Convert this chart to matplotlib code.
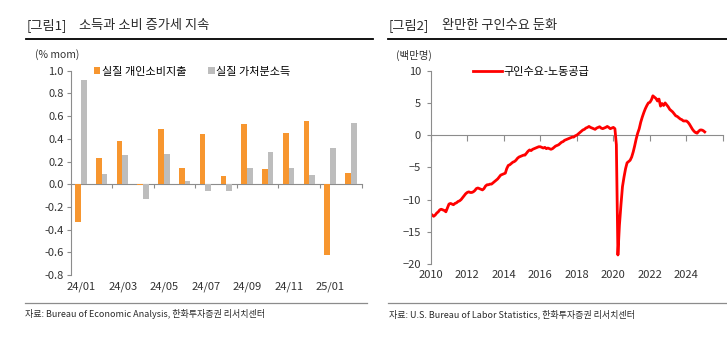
import numpy as np
import pandas as pd
import matplotlib
matplotlib.use("Agg")
import matplotlib.pyplot as plt
import matplotlib.dates as mdates
from matplotlib.lines import Line2D

plt.rcParams['font.family'] = ['Noto Sans CJK KR', 'DejaVu Sans']

# ---- data: [그림1]
months = ["24/01", "24/02", "24/03", "24/04", "24/05", "24/06", "24/07",
          "24/08", "24/09", "24/10", "24/11", "24/12", "25/01", "25/02"]
consumption = [-0.33, 0.23, 0.38, -0.01, 0.49, 0.14, 0.44,
               0.07, 0.53, 0.13, 0.45, 0.56, -0.62, 0.10]
income = [0.92, 0.09, 0.26, -0.13, 0.27, 0.03, -0.06,
          -0.06, 0.14, 0.28, 0.14, 0.08, 0.32, 0.54]
pct_ticks = [-0.8, -0.6, -0.4, -0.2, 0.0, 0.2, 0.4, 0.6, 0.8, 1.0]

# ---- data: [그림2] 구인수요-노동공급 (백만명), monthly from 2010-01
gap = [
    -12.2, -12.4, -12.6, -12.4, -12.1, -11.9, -11.6, -11.5, -11.6, -11.7, -11.9, -11.3,
    -10.7, -10.6, -10.7, -10.8, -10.6, -10.5, -10.3, -10.2, -10.0, -9.7, -9.4, -9.1,
    -8.9, -8.8, -8.9, -8.9, -8.8, -8.6, -8.3, -8.2, -8.3, -8.4, -8.5, -8.3,
    -7.9, -7.7, -7.7, -7.6, -7.6, -7.4, -7.2, -7.0, -6.8, -6.5, -6.2, -6.1,
    -6.0, -5.9, -5.2, -4.7, -4.6, -4.4, -4.2, -4.1, -3.9, -3.6, -3.4, -3.3,
    -3.2, -3.1, -3.1, -2.8, -2.5, -2.3, -2.4, -2.2, -2.1, -2.0, -1.9, -1.8,
    -1.8, -1.9, -2.0, -1.9, -2.1, -2.0, -2.1, -2.2, -2.1, -1.9, -1.7, -1.6,
    -1.5, -1.3, -1.1, -1.0, -0.8, -0.7, -0.6, -0.5, -0.4, -0.3, -0.3, -0.1,
    0.0, 0.2, 0.4, 0.6, 0.8, 0.9, 1.1, 1.2, 1.35, 1.2, 1.1, 1.0,
    0.9, 1.1, 1.2, 1.3, 1.1, 1.0, 1.1, 1.2, 1.35, 1.2, 1.0, 1.1,
    1.2, 1.0, -1.5, -18.6, -14.0, -10.8, -8.0, -6.5, -5.2, -4.3, -4.1, -3.9,
    -3.4, -2.6, -1.7, -0.6, 0.3, 1.0, 2.0, 2.8, 3.5, 4.1, 4.6, 5.0,
    5.1, 5.5, 6.1, 5.9, 5.7, 5.3, 5.6, 4.5, 4.9, 4.6, 5.0, 4.7,
    4.4, 4.0, 3.8, 3.6, 3.3, 3.0, 2.9, 2.7, 2.5, 2.4, 2.2, 2.2,
    2.2, 2.0, 1.7, 1.3, 0.9, 0.6, 0.4, 0.3, 0.6, 0.8, 0.8, 0.7,
    0.5,
]
gap_dates = pd.date_range("2010-01-01", periods=len(gap), freq="MS")
year_ticks = list(range(2010, 2027, 2))

ORANGE = "#F7962F"
GRAY = "#BDBDBD"
AXIS = "#8C8C8C"
TXT = "#2A2A2A"
W, H = 727, 342

fig = plt.figure(figsize=(7.27, 3.42), dpi=100)


def fx(px):
    return px / W


def fy(py):
    return 1 - py / H


# headers, rules, sources
fig.text(fx(27), fy(25), "[그림1]", fontsize=9.5, va="center", color=TXT)
fig.text(fx(79), fy(25), "소득과 소비 증가세 지속", fontsize=9.5, va="center", color=TXT)
fig.text(fx(389), fy(25), "[그림2]", fontsize=9.5, va="center", color=TXT)
fig.text(fx(442), fy(25), "완만한 구인수요 둔화", fontsize=9.5, va="center", color=TXT)
fig.add_artist(Line2D([fx(26), fx(373)], [fy(39.3)] * 2, color="black", lw=1.3))
fig.add_artist(Line2D([fx(388), fx(727)], [fy(39.3)] * 2, color="black", lw=1.3))
fig.add_artist(Line2D([fx(25), fx(367)], [fy(302.7)] * 2, color=AXIS, lw=0.9))
fig.add_artist(Line2D([fx(388), fx(727)], [fy(302.7)] * 2, color=AXIS, lw=0.9))
src_font = ['Liberation Sans Narrow', 'Noto Sans CJK KR']
fig.text(fx(25), fy(314), "자료: Bureau of Economic Analysis, 한화투자증권 리서치센터",
         fontsize=6.5, va="center", family=src_font, color=TXT)
fig.text(fx(389), fy(314), "자료: U.S. Bureau of Labor Statistics, 한화투자증권 리서치센터",
         fontsize=6.5, va="center", family=src_font, color=TXT)
fig.text(fx(35), fy(55), "(% mom)", fontsize=7.5, va="center", color="#333333")
fig.text(fx(396), fy(55), "(백만명)", fontsize=7.5, va="center", color="#333333")

# ---- left chart
ax1 = fig.add_axes([fx(70.7), fy(275), fx(290.8), (275 - 70.7) / H])
x = np.arange(len(months))
ax1.bar(x - 0.15, consumption, width=0.275, color=ORANGE, label="실질 개인소비지출")
ax1.bar(x + 0.125, income, width=0.275, color=GRAY, label="실질 가처분소득")
ax1.set_xlim(-0.5, len(months) - 0.5)
ax1.set_ylim(-0.8, 1.0)
ax1.set_yticks(pct_ticks)
ax1.set_yticklabels([f"{v:.1f}" for v in pct_ticks])
ax1.set_xticks(x[::2])
ax1.set_xticklabels(months[::2])
for s in ["top", "right", "bottom"]:
    ax1.spines[s].set_visible(False)
ax1.spines["left"].set_color(AXIS)
ax1.tick_params(axis="y", length=3, width=0.8, color=AXIS, labelsize=8, pad=2, labelcolor="#333333")
ax1.tick_params(axis="x", length=0, labelsize=8, pad=5, labelcolor="#333333")
zero1 = ax1.secondary_xaxis(0, transform=ax1.transData)
zero1.set_xticks(np.arange(1.5, len(months), 2))
zero1.set_xticklabels([])
zero1.spines["bottom"].set_color(AXIS)
zero1.tick_params(length=3, width=0.8, color=AXIS)
ax1.legend(ncol=2, frameon=False, loc="upper left", bbox_to_anchor=(0.08, 1.02),
           fontsize=8, handlelength=0.55, handleheight=0.55, handletextpad=0.15,
           columnspacing=2.0, borderpad=0, borderaxespad=0)

# ---- right chart
ax2 = fig.add_axes([fx(430.7), fy(264), fx(292.3), (264 - 70.7) / H])
xd = mdates.date2num(gap_dates)
ax2.plot(xd, gap, color="#FF0000", lw=2, label="구인수요-노동공급")
tick_pos = mdates.date2num(pd.to_datetime([f"{y}-01-01" for y in year_ticks]))
ax2.set_xlim(tick_pos[0], tick_pos[-1])
ax2.set_ylim(-20, 10)
ax2.set_yticks(range(-20, 11, 5))
ax2.set_xticks(tick_pos)
ax2.set_xticklabels([str(y) if y < 2026 else "" for y in year_ticks])
for s in ["top", "right", "bottom"]:
    ax2.spines[s].set_visible(False)
ax2.spines["left"].set_color(AXIS)
ax2.tick_params(axis="y", length=3, width=0.8, color=AXIS, labelsize=8, pad=4, labelcolor="#333333")
ax2.tick_params(axis="x", length=0, labelsize=8, pad=4, labelcolor="#333333")
zero2 = ax2.secondary_xaxis(0, transform=ax2.transData)
zero2.set_xticks(tick_pos)
zero2.set_xticklabels([])
zero2.spines["bottom"].set_color(AXIS)
zero2.tick_params(length=4, width=0.8, color=AXIS)
ax2.legend(frameon=False, loc="center left", bbox_to_anchor=(0.145, 0.995),
           fontsize=8, handlelength=2.6, handletextpad=0.1, borderpad=0, borderaxespad=0)

fig.savefig("out.png", dpi=100)
